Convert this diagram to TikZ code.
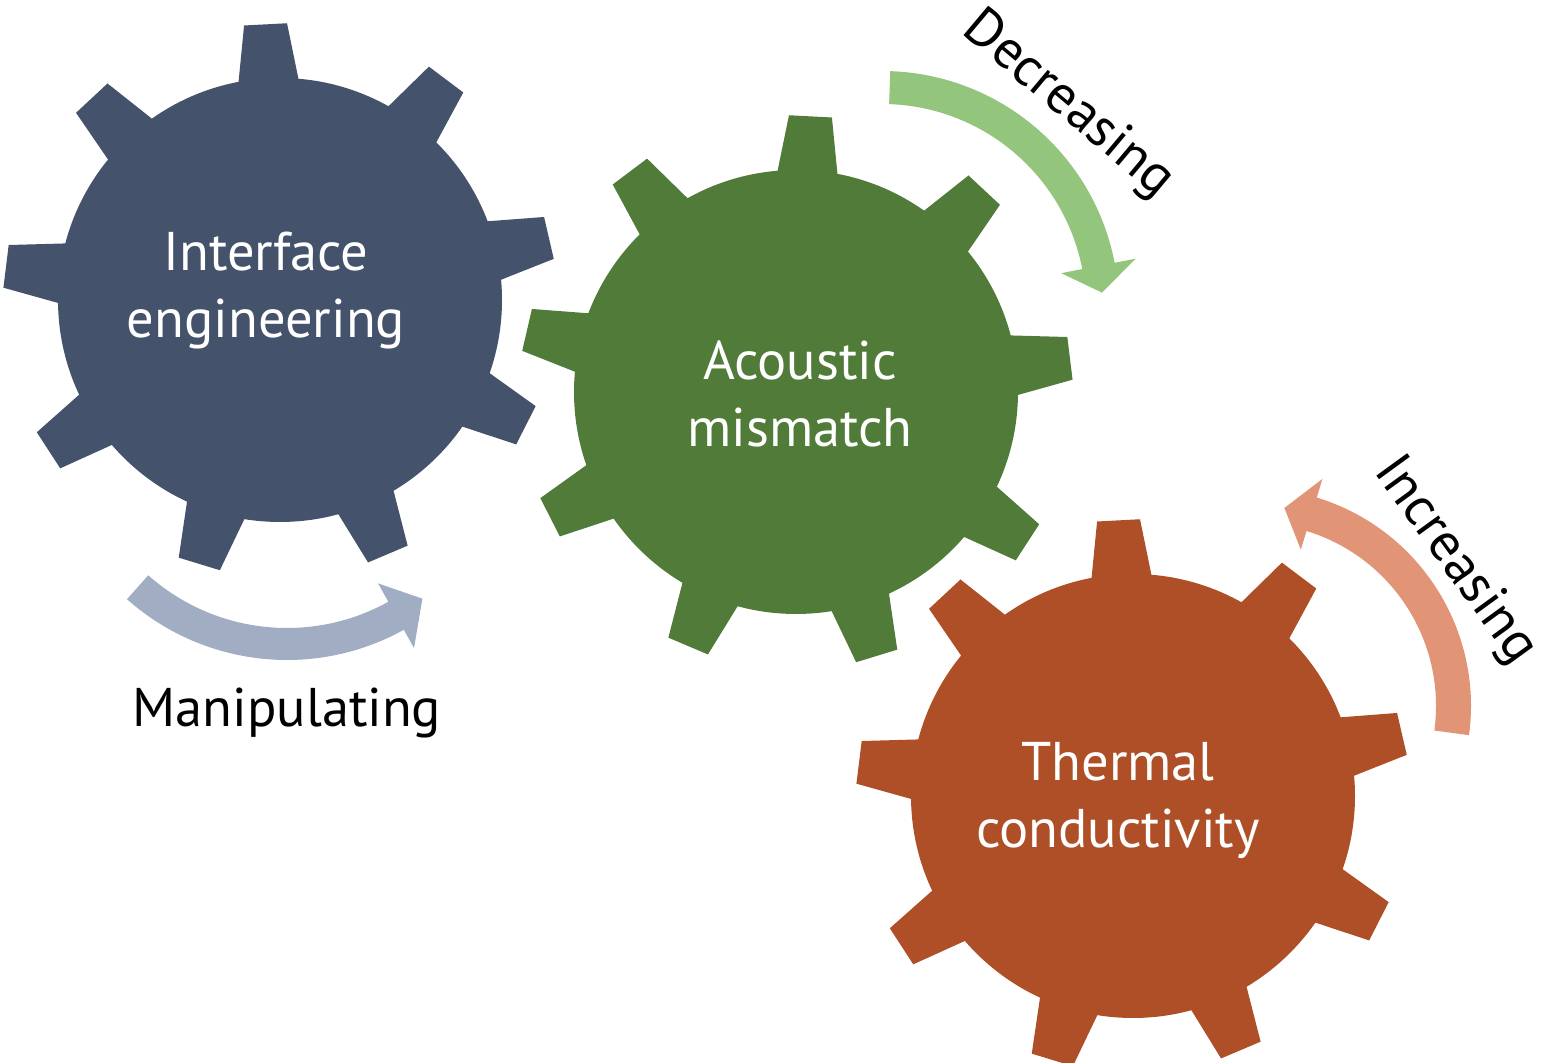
\documentclass[tikz,border=0pt]{standalone}
\usepackage{fontspec}
\setmainfont{PT Sans}
\definecolor{gearblue}{HTML}{44526C}
\definecolor{geargreen}{HTML}{517B38}
\definecolor{gearorange}{HTML}{AE4F27}
\definecolor{arrblue}{HTML}{A1ADC2}
\definecolor{arrgreen}{HTML}{93C57D}
\definecolor{arrorange}{HTML}{E29576}
\newcommand{\mygear}[5]{%
  \begin{scope}[shift={(#2pt,#3pt)}]
    \fill[#5] (0,0) circle (222pt);
    \foreach \k in {0,...,8} {
      \fill[#5, rotate=#4+40*\k] (200pt,-33pt) -- (276pt,-21.5pt) -- (276pt,21.5pt) -- (200pt,33pt) -- cycle;
    }
  \end{scope}
  \coordinate (#1) at (#2pt,#3pt);
}
\newcommand{\myarrow}[9]{%
  \pgfmathsetmacro\arRo{#3+#4}\pgfmathsetmacro\arRi{#3-#4}%
  \pgfmathsetmacro\arHo{#3+#5}\pgfmathsetmacro\arHi{#3-#5}%
  \fill[#9, shift={(#1pt,#2pt)}] (#6:\arRo pt) arc[start angle=#6, end angle=#7, radius=\arRo pt]
    -- (#7:\arHo pt) -- (#8:#3pt) -- (#7:\arHi pt) -- (#7:\arRi pt)
    arc[start angle=#7, end angle=#6, radius=\arRi pt] -- cycle;
}
\tikzset{
  gtext/.style={text=white, align=center, font=\fontsize{54.5}{67}\selectfont},
  ltext/.style={text=black, font=\fontsize{54.5}{67}\selectfont},
}
\begin{document}
\begin{tikzpicture}[x=1pt,y=1pt]
\useasboundingbox (0,0) rectangle (1551,1063);
\mygear{g1}{280}{763}{13}{gearblue}
\mygear{g2}{796}{671}{7}{geargreen}
\mygear{g3}{1133}{267}{13}{gearorange}
\myarrow{287}{644}{225}{16}{37}{-131.6}{-61}{-53}{arrblue}
\myarrow{882}{755}{220.5}{16.5}{38}{88}{11}{4}{arrgreen}
\myarrow{1253}{357}{200.5}{17.5}{37}{-7.7}{73}{81}{arrorange}
\node[gtext] (t1) at (266,772) {Interface\\engineering};
\node[gtext] (t2) at (800,669.5) {Acoustic\\mismatch};
\node[gtext] (t3) at (1118,262) {Thermal\\conductivity};
\node[ltext, anchor=base] (l1) at (287,336) {Manipulating};
\node[ltext, rotate=-40] (l2) at (1068,958) {Decreasing};
\node[ltext, rotate=-54] (l3) at (1455,502) {Increasing};
\end{tikzpicture}
\end{document}
